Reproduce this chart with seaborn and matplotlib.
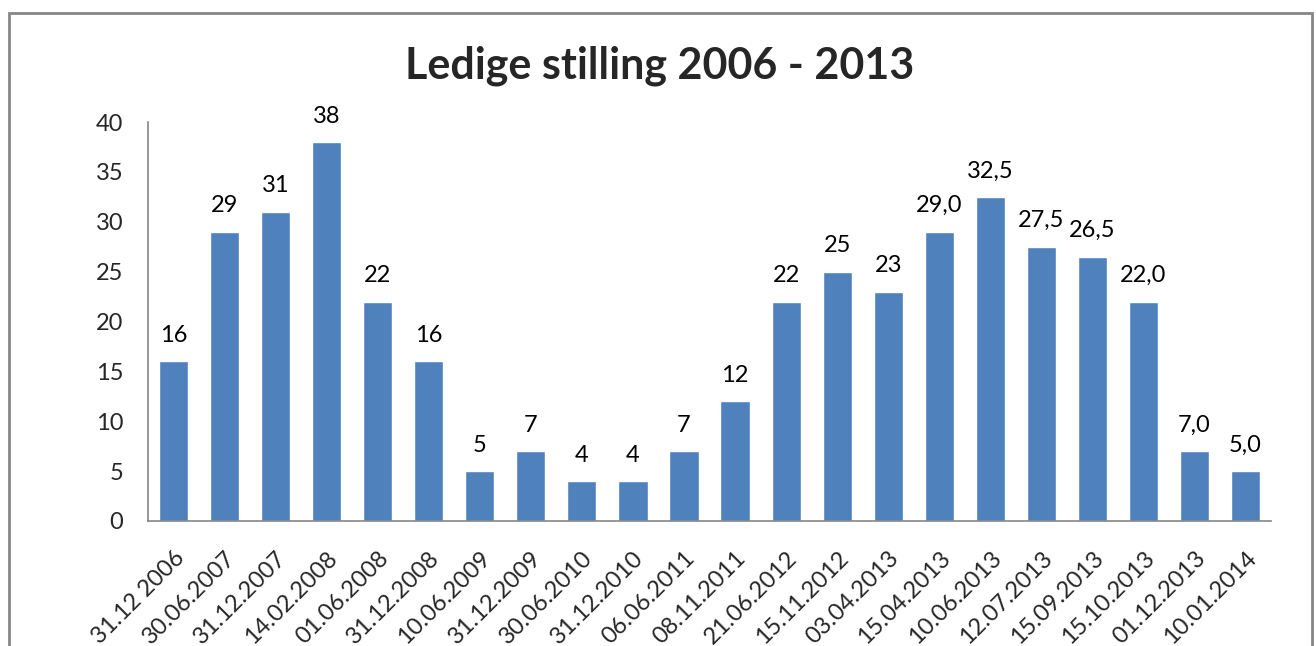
import seaborn as sns
import matplotlib.pyplot as plt
import pandas as pd
from matplotlib.patches import Rectangle

# dates and number of vacant positions
dates = ["31.12 2006", "30.06.2007", "31.12.2007", "14.02.2008", "01.06.2008",
         "31.12.2008", "10.06.2009", "31.12.2009", "30.06.2010", "31.12.2010",
         "06.06.2011", "08.11.2011", "21.06.2012", "15.11.2012", "03.04.2013",
         "15.04.2013", "10.06.2013", "12.07.2013", "15.09.2013", "15.10.2013",
         "01.12.2013", "10.01.2014"]
values = [16, 29, 31, 38, 22, 16, 5, 7, 4, 4, 7, 12, 22, 25, 23,
          29.0, 32.5, 27.5, 26.5, 22.0, 7.0, 5.0]
value_labels = ["16", "29", "31", "38", "22", "16", "5", "7", "4", "4", "7", "12",
                "22", "25", "23", "29,0", "32,5", "27,5", "26,5", "22,0", "7,0", "5,0"]

df = pd.DataFrame({"dato": dates, "ledige": values})

sns.set_style("white")
plt.rcParams['font.family'] = ['Lato', 'DejaVu Sans']

fig = plt.figure(figsize=(13.16, 6.46), dpi=100)
ax = fig.add_axes([0.1125, 0.1935, 0.8533, 0.6176])

sns.barplot(data=df, x="dato", y="ledige", color="#4F81BD", saturation=1,
            width=0.57, ax=ax)

for i, lab in enumerate(value_labels):
    ax.text(i, values[i] + 1.55, lab, ha="center", va="bottom", fontsize=17, color="black")

ax.set_ylim(0, 40)
ax.set_xlim(-0.5, len(dates) - 0.5)
ax.set_yticks(range(0, 41, 5))
ax.tick_params(axis="y", labelsize=17, length=0, pad=18)
ax.tick_params(axis="x", labelsize=17, length=0, pad=19)
plt.setp(ax.get_xticklabels(), rotation=45, ha="right", rotation_mode="anchor")
ax.set_xlabel("")
ax.set_ylabel("")

for side in ["top", "right"]:
    ax.spines[side].set_visible(False)
for side in ["left", "bottom"]:
    ax.spines[side].set_color("#868686")
    ax.spines[side].set_linewidth(1.2)

fig.text(0.5015, 0.898, "Ledige stilling 2006 - 2013", ha="center", va="center",
         fontsize=31, fontweight="bold")

# outer chart frame, runs off the bottom edge
fig.patches.append(Rectangle((9 / 1316, -0.05), 1303 / 1316, 1.05 - 13 / 646,
                             transform=fig.transFigure, fill=False,
                             edgecolor="#868686", linewidth=2))

fig.savefig("out.png", dpi=100)
